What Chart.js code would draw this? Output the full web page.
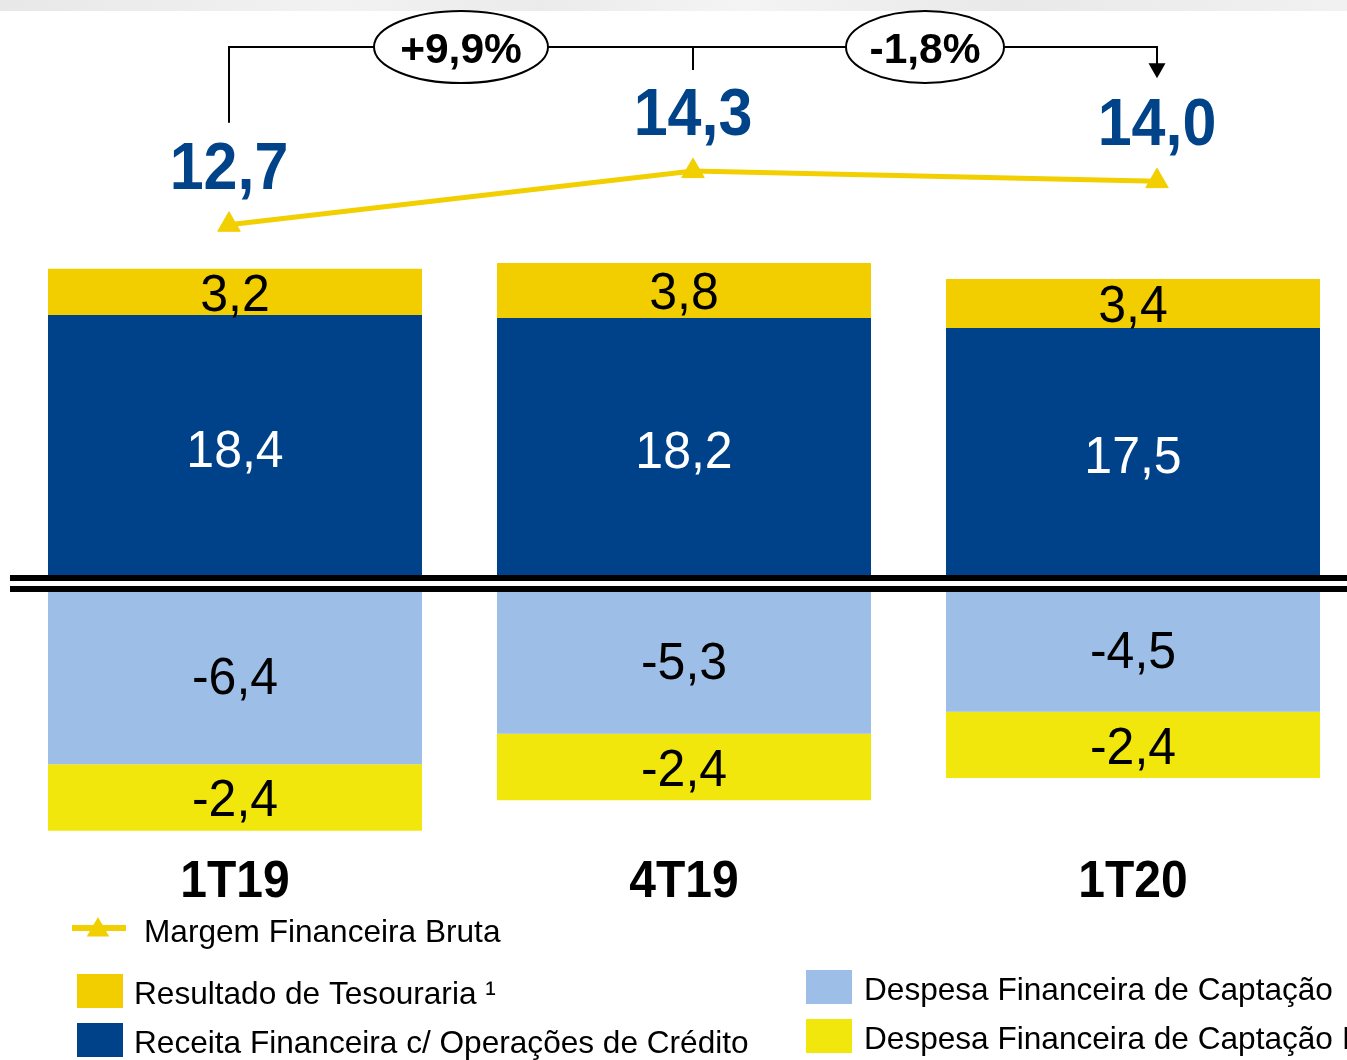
<!DOCTYPE html>
<html><head><meta charset="utf-8">
<script src="https://cdn.jsdelivr.net/npm/chart.js@4/dist/chart.umd.min.js"></script>
<style>
html,body{margin:0;padding:0;background:#fff;overflow:hidden;width:1347px;height:1060px;}
#strip{position:absolute;left:0;top:0;width:1347px;height:11px;background:linear-gradient(to right,#e8e8e8 0%,#f2f2f2 25%,#ebebeb 40%,#f4f4f4 55%,#e9e9e9 75%,#f1f1f1 100%);}
#wrap{position:absolute;left:0;top:0;width:1360px;height:1060px;}
</style></head><body>
<div id="strip"></div>
<div id="wrap"><canvas id="c" width="1360" height="1060"></canvas></div>
<script>
// ---- data ----
const categories = ['1T19', '4T19', '1T20'];
const tesouraria = [3.2, 3.8, 3.4];
const receitaCredito = [18.4, 18.2, 17.5];
const despesaCaptacao = [-6.4, -5.3, -4.5];
const despesaCaptacao2 = [-2.4, -2.4, -2.4];
const margemBruta = [12.7, 14.3, 14.0];
const variacoes = ['+9,9%', '-1,8%'];
const seriesNames = {
  margem: 'Margem Financeira Bruta',
  tesouraria: 'Resultado de Tesouraria \u00B9',
  receita: 'Receita Financeira c/ Operações de Crédito',
  despesa: 'Despesa Financeira de Captação',
  despesa2: 'Despesa Financeira de Captação Institucional'
};

const FONT = "'Liberation Sans', Arial, sans-serif";
const C_GOLD = '#F2CE00', C_BLUE = '#00428A', C_LBLUE = '#9DBFE7', C_YEL = '#F2E70C', C_LINE = '#F2CF00', C_VAL = '#004388';

const fmt = v => v.toFixed(1).replace('.', ',');

function drawText(ctx, s, x, cy, size, weight, color, sy, align) {
  ctx.save();
  ctx.font = weight + ' ' + size + 'px ' + FONT;
  ctx.fillStyle = color;
  ctx.textAlign = align || 'center';
  ctx.textBaseline = 'alphabetic';
  ctx.translate(x, cy + 0.358 * size * sy);
  ctx.scale(1, sy);
  ctx.fillText(s, 0, 0);
  ctx.restore();
}
function drawTri(ctx, x, y, r, color) {
  ctx.save();
  ctx.fillStyle = color;
  ctx.beginPath();
  let a = 0;
  ctx.moveTo(x + Math.sin(a) * r, y - Math.cos(a) * r);
  a += 2 * Math.PI / 3;
  ctx.lineTo(x + Math.sin(a) * r, y - Math.cos(a) * r);
  a += 2 * Math.PI / 3;
  ctx.lineTo(x + Math.sin(a) * r, y - Math.cos(a) * r);
  ctx.closePath();
  ctx.fill();
  ctx.restore();
}

const custom = {
  id: 'custom',
  afterDatasetsDraw(chart) {
    const ctx = chart.ctx;
    const yPos = chart.scales.yPos, yNeg = chart.scales.yNeg, x = chart.scales.x;
    // axis break double line
    const z1 = yPos.getPixelForValue(0), z2 = yNeg.getPixelForValue(0);
    ctx.save();
    ctx.fillStyle = '#000';
    ctx.fillRect(10, z1 - 6, 1350, 6);
    ctx.fillRect(10, z2 - 1, 1350, 6);
    ctx.restore();
    // bar labels
    chart.data.datasets.forEach((ds, i) => {
      if (ds.type === 'line') return;
      const meta = chart.getDatasetMeta(i);
      meta.data.forEach((el, j) => {
        const cy = (el.y + el.base) / 2;
        drawText(ctx, fmt(ds.data[j]), el.x, cy, 50, 'normal', ds.labelColor, 1.05);
      });
    });
    // category labels
    categories.forEach((c, i) => {
      drawText(ctx, c, x.getPixelForValue(i), 878.5, 48, 'bold', '#000', 1.07);
    });
    // line labels + annotation
    const li = chart.data.datasets.findIndex(d => d.type === 'line');
    const pts = chart.getDatasetMeta(li).data;
    pts.forEach((p, j) => {
      drawText(ctx, fmt(margemBruta[j]), p.x, p.y - 60, 61, 'bold', C_VAL, 1.1);
    });
    const topY = 47;
    ctx.save();
    ctx.strokeStyle = '#000';
    ctx.lineWidth = 2;
    ctx.beginPath();
    ctx.moveTo(pts[0].x, pts[0].y - 102);
    ctx.lineTo(pts[0].x, topY);
    ctx.lineTo(pts[2].x, topY);
    ctx.lineTo(pts[2].x, pts[2].y - 116);
    ctx.moveTo(pts[1].x, topY);
    ctx.lineTo(pts[1].x, pts[1].y - 101);
    ctx.stroke();
    ctx.fillStyle = '#000';
    ctx.beginPath();
    const ax = pts[2].x, ay = pts[2].y - 103;
    ctx.moveTo(ax - 8.5, ay - 15);
    ctx.lineTo(ax + 8.5, ay - 15);
    ctx.lineTo(ax, ay);
    ctx.closePath();
    ctx.fill();
    const rxs = [87, 79];
    variacoes.forEach((t, k) => {
      const cx = (pts[k].x + pts[k + 1].x) / 2;
      ctx.beginPath();
      ctx.ellipse(cx, topY, rxs[k], 36, 0, 0, Math.PI * 2);
      ctx.fillStyle = '#fff';
      ctx.fill();
      ctx.lineWidth = 2;
      ctx.strokeStyle = '#000';
      ctx.stroke();
      drawText(ctx, t, cx, topY + 1, 42.5, 'bold', '#000', 1.0);
    });
    ctx.restore();
  },
  afterDraw(chart) {
    const ctx = chart.ctx;
    const ds = chart.data.datasets;
    const fs = 31.6;
    const legendText = (s, x, base) => {
      ctx.save();
      ctx.font = 'normal ' + fs + 'px ' + FONT;
      ctx.fillStyle = '#000';
      ctx.textAlign = 'left';
      ctx.textBaseline = 'alphabetic';
      ctx.fillText(s, x, base);
      ctx.restore();
    };
    // line entry
    const lineDs = ds.find(d => d.type === 'line');
    ctx.save();
    ctx.strokeStyle = lineDs.borderColor;
    ctx.lineWidth = 6;
    ctx.beginPath(); ctx.moveTo(72, 928); ctx.lineTo(126, 928); ctx.stroke();
    ctx.restore();
    drawTri(ctx, 98, 930, 13, lineDs.borderColor);
    legendText(lineDs.label, 144, 942);
    // square entries
    const boxes = [
      {d: ds[1], x: 77, y: 974, tx: 134, tb: 1004},
      {d: ds[0], x: 77, y: 1023, tx: 134, tb: 1053},
      {d: ds[2], x: 806, y: 970, tx: 864, tb: 1000},
      {d: ds[3], x: 806, y: 1019, tx: 864, tb: 1049}
    ];
    boxes.forEach(b => {
      ctx.fillStyle = b.d.backgroundColor;
      ctx.fillRect(b.x, b.y, 46, 34);
      legendText(b.d.label, b.tx, b.tb);
    });
  }
};

new Chart(document.getElementById('c'), {
  type: 'bar',
  data: {
    labels: categories,
    datasets: [
      {label: seriesNames.receita, data: receitaCredito, backgroundColor: C_BLUE, yAxisID: 'yPos', stack: 's', labelColor: '#fff'},
      {label: seriesNames.tesouraria, data: tesouraria, backgroundColor: C_GOLD, yAxisID: 'yPos', stack: 's', labelColor: '#000'},
      {label: seriesNames.despesa, data: despesaCaptacao, backgroundColor: C_LBLUE, yAxisID: 'yNeg', stack: 's', labelColor: '#000'},
      {label: seriesNames.despesa2, data: despesaCaptacao2, backgroundColor: C_YEL, yAxisID: 'yNeg', stack: 's', labelColor: '#000'},
      {type: 'line', label: seriesNames.margem, data: margemBruta.map((v, i) => ({x: i, y: v})),
       xAxisID: 'xL', yAxisID: 'yL', borderColor: C_LINE, backgroundColor: C_LINE, borderWidth: 5,
       tension: 0, pointStyle: 'triangle', pointRadius: 13, pointBorderWidth: 1, order: -1}
    ]
  },
  options: {
    responsive: false,
    animation: false,
    devicePixelRatio: 1,
    layout: {autoPadding: false, padding: {left: 10.5, right: 2.5, top: 0, bottom: 0}},
    plugins: {legend: {display: false}, tooltip: {enabled: false}, title: {display: false}},
    datasets: {bar: {barPercentage: 0.833, categoryPercentage: 1.0, borderWidth: 0, grouped: false}},
    scales: {
      x: {type: 'category', display: false, stacked: true, offset: true},
      xL: {type: 'linear', display: false, offset: false, min: -0.4709, max: 2.4321},
      yPos: {type: 'linear', display: false, stacked: true, min: -33.149, max: 40.207},
      yNeg: {type: 'linear', display: false, stacked: true, min: -17.076, max: 21.191},
      yL: {type: 'linear', display: false, min: -12.196, max: 19.399}
    }
  },
  plugins: [custom]
});
</script>
</body></html>
